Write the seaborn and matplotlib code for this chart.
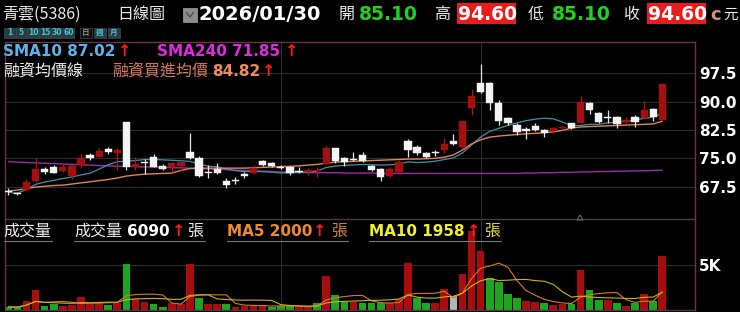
import numpy as np
import pandas as pd
import matplotlib
matplotlib.use("Agg")
import matplotlib.pyplot as plt
from matplotlib.patches import Rectangle
from matplotlib.lines import Line2D
import seaborn as sns

# ---------------- data ----------------
opens = [66.4, 65.9, 66.6, 69.1, 72.1, 72.6, 71.7, 70.3, 73.2, 75.9,
         75.4, 77.4, 76.5, 84.7, 72.6, 73.9, 75.4, 73.0, 72.6, 73.0,
         76.6, 75.0, 71.3, 72.2, 69.1, 69.2, 70.7, 71.0, 74.3, 73.8,
         72.7, 72.7, 71.7, 71.4, 71.6, 73.5, 77.7, 75.0, 74.7, 75.9,
         73.1, 72.1, 70.4, 71.5, 79.6, 77.9, 76.5, 76.7, 77.2, 79.6,
         77.9, 88.4, 94.9, 95.0, 89.6, 85.6, 83.8, 82.6, 83.6, 82.5,
         82.1, 83.0, 84.3, 84.3, 89.6, 87.1, 85.9, 85.9, 84.8, 86.0,
         85.6, 88.0, 85.1]
highs = [67.2, 66.2, 69.5, 75.0, 72.6, 73.2, 73.4, 73.4, 76.1, 76.3,
         77.7, 77.9, 77.7, 84.7, 75.4, 74.7, 76.1, 73.5, 74.1, 74.1,
         81.8, 75.7, 73.2, 73.7, 69.7, 70.1, 71.5, 73.2, 74.6, 74.1,
         73.3, 73.0, 72.8, 72.5, 72.6, 78.3, 77.8, 75.4, 76.6, 76.6,
         73.2, 72.4, 72.8, 74.6, 80.1, 78.5, 76.8, 77.2, 80.3, 81.4,
         85.0, 93.3, 100.0, 95.3, 90.4, 86.0, 84.4, 83.4, 84.4, 82.8,
         83.4, 83.6, 84.4, 91.6, 90.0, 87.3, 87.8, 86.2, 85.9, 86.5,
         90.2, 88.2, 94.6]
lows = [65.3, 65.3, 66.4, 68.8, 70.9, 71.0, 71.5, 69.5, 72.4, 74.6,
        75.3, 76.1, 71.9, 71.9, 71.9, 70.9, 72.6, 71.9, 71.5, 71.7,
        74.8, 70.0, 69.7, 70.9, 67.2, 68.2, 69.7, 70.9, 73.0, 72.8,
        72.1, 70.6, 71.0, 70.6, 70.1, 73.2, 73.8, 73.0, 74.3, 74.1,
        71.7, 69.1, 70.1, 71.0, 75.4, 75.9, 75.0, 75.6, 76.5, 78.5,
        77.8, 86.5, 92.2, 87.8, 83.8, 83.8, 81.2, 80.0, 82.1, 80.7,
        81.8, 82.5, 82.7, 84.3, 86.7, 84.3, 84.4, 83.0, 84.0, 83.4,
        85.3, 85.0, 85.1]
closes = [66.0, 65.5, 68.8, 72.1, 71.3, 71.2, 72.6, 73.0, 75.0, 75.2,
          77.0, 76.7, 77.2, 72.8, 73.5, 73.7, 72.8, 72.1, 73.8, 74.1,
          75.0, 70.4, 71.0, 71.1, 67.9, 69.0, 70.5, 72.4, 73.2, 73.1,
          72.5, 71.0, 71.5, 71.9, 71.8, 77.8, 74.3, 74.1, 74.5, 74.3,
          71.9, 70.1, 72.1, 74.1, 77.2, 76.3, 75.4, 76.5, 78.8, 78.8,
          84.9, 91.5, 92.6, 89.6, 84.9, 84.3, 81.9, 82.4, 82.6, 81.6,
          83.0, 83.2, 83.1, 90.0, 87.8, 84.5, 85.7, 84.0, 85.0, 84.7,
          87.8, 85.9, 94.6]
volumes = [300, 230, 940, 2180, 380, 600, 380, 560, 1430, 600,
           680, 560, 750, 5190, 1240, 870, 600, 300, 680, 600,
           5110, 1350, 600, 600, 600, 300, 380, 410, 560, 300,
           380, 410, 230, 300, 680, 3760, 1690, 870, 870, 750,
           680, 680, 680, 1130, 5260, 1350, 680, 750, 2260, 1500,
           4060, 8870, 6620, 3500, 3120, 1730, 1350, 980, 870, 790,
           490, 600, 600, 4500, 2200, 1080, 1050, 750, 450, 700,
           1780, 980, 6090]
margin_avg = [66.3, 66.6, 67.0, 67.4, 67.6, 67.8, 67.9, 68.2, 68.5, 68.8,
              69.1, 69.4, 69.8, 70.3, 70.6, 70.8, 70.9, 71.0, 71.1, 71.8,
              72.3, 72.4, 72.4, 72.4, 72.4, 72.4, 72.4, 72.5, 72.6, 72.7,
              72.8, 72.9, 73.0, 73.2, 73.4, 73.7, 74.0, 74.1, 74.2, 74.3,
              74.4, 74.5, 74.6, 74.7, 74.8, 74.8, 74.9, 75.0, 75.3, 75.9,
              77.2, 78.8, 79.9, 80.6, 80.9, 81.1, 81.3, 81.5, 81.6, 81.8,
              82.0, 82.4, 83.0, 83.3, 83.4, 83.5, 83.6, 83.7, 83.8, 83.9,
              84.0, 84.1, 84.82]
sma240 = [74.1, 74.0, 73.9, 73.8, 73.7, 73.6, 73.5, 73.4, 73.3,
          73.2, 73.1, 73.0, 72.9, 72.9, 72.8, 72.7, 72.7, 72.6, 72.5, 72.5, 72.4,
          72.3, 72.2, 72.1, 72.0, 71.9, 71.8, 71.7, 71.6, 71.5, 71.4,
          71.3, 71.3, 71.2, 71.2, 71.2, 71.2, 71.1, 71.1, 71.1, 71.1, 71.0, 71.0,
          71.0, 71.0, 71.0, 71.0, 71.0, 71.0, 71.0, 71.0, 71.0, 71.0, 71.0, 71.0, 71.0,
          71.0, 71.1, 71.1, 71.2, 71.2, 71.3, 71.3, 71.4, 71.4, 71.5, 71.5, 71.6,
          71.6, 71.7, 71.7, 71.8, 71.85]
price_ticks = [67.5, 75.0, 82.5, 90.0, 97.5]
price_tick_labels = ["67.5", "75.0", "82.5", "90.0", "97.5"]
vol_ticks = [5000]
vol_tick_labels = ["5K"]
month_marks = [30, 52]
period_buttons = ["1", "5", "10", "15", "30", "60", "日", "週", "月"]

# ---------------- style ----------------
sns.set_theme(style="dark", rc={
    "figure.facecolor": "black", "axes.facecolor": "black",
    "savefig.facecolor": "black", "grid.color": "#2c2c2c",
    "axes.edgecolor": "#6b3345", "text.color": "white",
})
plt.rcParams["font.family"] = ["DejaVu Sans", "Noto Sans CJK TC"]
CJK = ["Noto Sans CJK TC", "DejaVu Sans"]

RED = "#a50f0f"
WHITE = "#f4f4f4"
VRED = "#a80c0c"
VGREEN = "#1ea51e"
VGRAY = "#b4b4b4"

df = pd.DataFrame({"open": opens, "high": highs, "low": lows,
                   "close": closes, "volume": volumes,
                   "margin": margin_avg, "sma240": sma240})
df["idx"] = np.arange(len(df))
df["sma10"] = df["close"].rolling(10, min_periods=1).mean()
df["vma5"] = df["volume"].rolling(5, min_periods=1).mean()
df["vma10"] = df["volume"].rolling(10, min_periods=1).mean()

W, H = 740, 312
def fx(x): return x / W
def fy(y): return 1 - y / H

fig = plt.figure(figsize=(7.4, 3.12), dpi=100, facecolor="black")
ax = fig.add_axes([fx(4.5), fy(218), fx(695) - fx(4.5), fy(41.7) - fy(218)])
axv = fig.add_axes([fx(4.5), fy(309.5), fx(695) - fx(4.5), fy(219) - fy(309.5)])

XMIN, XMAX = -0.42, 75.6

# ---------------- price panel ----------------
sns.lineplot(data=df, x="idx", y="sma240", ax=ax, color="#9a2aa6", linewidth=1.0, zorder=2)
sns.lineplot(data=df, x="idx", y="sma10", ax=ax, color="#3f93a6", linewidth=0.9, zorder=2)
sns.lineplot(data=df, x="idx", y="margin", ax=ax, color="#e0845c", linewidth=1.0, zorder=2)

up = df["close"] >= df["open"]
ccol = np.where(up, RED, WHITE)
wcol = np.where(up, "#b31515", "#e6e6e6")
ax.vlines(df["idx"], df["low"], df["high"], colors=wcol, linewidth=0.9, zorder=3)
bh = np.maximum((df["close"] - df["open"]).abs(), 0.32)
mid = (df["close"] + df["open"]) / 2
ax.bar(df["idx"], bh, bottom=mid - bh / 2, width=0.8, color=ccol,
       edgecolor=ccol, linewidth=0.3, zorder=4)

ax.set_xlim(XMIN, XMAX)
ax.set_ylim(59.21, 105.86)
ax.yaxis.tick_right()
ax.set_yticks(price_ticks)
ax.set_yticklabels(price_tick_labels, fontsize=11, fontweight="bold", color="white")
ax.tick_params(axis="y", length=0, pad=3)
ax.set_xticks(month_marks)
ax.set_xticklabels([])
ax.tick_params(axis="x", length=0)
ax.grid(True, axis="both", color="#2c2c2c", linewidth=0.8)
ax.set_xlabel("")
ax.set_ylabel("")
for s in ["top", "left", "right"]:
    ax.spines[s].set_color("#6b3345")
    ax.spines[s].set_linewidth(1.0)
ax.spines["bottom"].set_visible(False)

# ---------------- volume panel ----------------
prev = df["close"].shift(1).fillna(df["open"])
chg = (df["close"] - prev).round(2)
vcol = np.where(chg > 0, VRED, np.where(chg < 0, VGREEN, VGRAY))
axv.bar(df["idx"], df["volume"], width=0.84, color=vcol, linewidth=0, zorder=2)
sns.lineplot(data=df, x="idx", y="vma5", ax=axv, color="#d47a2a", linewidth=0.8, zorder=3)
sns.lineplot(data=df, x="idx", y="vma10", ax=axv, color="#c8b414", linewidth=0.8, zorder=3)
axv.set_xlim(XMIN, XMAX)
axv.set_ylim(0, 10214)
axv.yaxis.tick_right()
axv.set_yticks(vol_ticks)
axv.set_yticklabels(vol_tick_labels, fontsize=11, fontweight="bold", color="white")
axv.tick_params(axis="y", length=0, pad=3)
axv.set_xticks(month_marks)
axv.set_xticklabels([])
axv.tick_params(axis="x", length=0)
axv.grid(True, axis="both", color="#2c2c2c", linewidth=0.8)
axv.set_xlabel("")
axv.set_ylabel("")
axv.spines["top"].set_color("#4e3a46")
axv.spines["left"].set_color("#6b3345")
axv.spines["right"].set_color("#6b3345")
axv.spines["bottom"].set_color("#4e3a46")
for s in axv.spines.values():
    s.set_linewidth(1.0)

# small marker triangle on panel divider
fig.add_artist(plt.Polygon([[fx(577), fy(220)], [fx(583), fy(220)], [fx(580), fy(215)]],
                           closed=True, fill=False, edgecolor="#666666",
                           linewidth=0.8, transform=fig.transFigure))

# ---------------- header ----------------
def t(x, y, s, color="white", size=11, weight="normal", family=None, **kw):
    kwargs = dict(color=color, fontsize=size, fontweight=weight, ha="left", va="center")
    if family is not None:
        kwargs["family"] = family
    kwargs.update(kw)
    return fig.text(fx(x), fy(y), s, **kwargs)

t(2, 14.5, "青雲(5386)", color="#ececec", size=11.5, family=CJK)
t(117, 14.5, "日線圖", color="#ececec", size=11.5, family=CJK)
fig.add_artist(Rectangle((fx(183), fy(21.5)), fx(14), fy(8) - fy(21.5),
                         facecolor="#8c8c8c", edgecolor="#a0a0a0", linewidth=0.5,
                         transform=fig.transFigure))
fig.add_artist(Line2D([fx(186.5), fx(190), fx(193.5)], [fy(12.5), fy(17), fy(12.5)],
                      color="#4a4a4a", linewidth=1.0, transform=fig.transFigure))
t(199, 15, "2026/01/30", size=14, weight="bold")
t(339, 14.5, "開", color="#ececec", size=11.5, family=CJK)
t(359, 15, "85.10", color="#1ed21e", size=13.5, weight="bold")
t(434, 14.5, "高", color="#ececec", size=11.5, family=CJK)
fig.add_artist(Rectangle((fx(457), fy(24)), fx(59), fy(3) - fy(24),
                         facecolor="#ee1a1a", edgecolor="none", transform=fig.transFigure))
t(458, 15, "94.60", size=13.5, weight="bold")
t(528, 14.5, "低", color="#ececec", size=11.5, family=CJK)
t(552, 15, "85.10", color="#1ed21e", size=13.5, weight="bold")
t(623, 14.5, "收", color="#ececec", size=11.5, family=CJK)
fig.add_artist(Rectangle((fx(647), fy(24)), fx(59), fy(3) - fy(24),
                         facecolor="#ee1a1a", edgecolor="none", transform=fig.transFigure))
t(648, 15, "94.60", size=13.5, weight="bold")
t(710, 15, "c", color="#c89a6e", size=13, weight="bold")
t(723, 14.5, "元", color="#ececec", size=10.5, family=CJK)

# period buttons
bx = [4, 15.7, 27.4, 39.1, 50.8, 62.5, 80, 94, 108]
for x0, lab in zip(bx, period_buttons):
    dark = lab == "日"
    fig.add_artist(Rectangle((fx(x0), fy(38)), fx(11.5), fy(27.5) - fy(38),
                             facecolor="#101010" if dark else "#2e3b40",
                             edgecolor="#3c4a50", linewidth=0.5,
                             transform=fig.transFigure))
    fig.text(fx(x0 + 5.75), fy(32.8), lab, color="#8a8a8a" if dark else "#3fc4d4",
             fontsize=5.5, fontweight="bold", ha="center", va="center",
             family=CJK if lab in ("日", "週", "月") else None)

# price legend
t(3, 51.5, "SMA10 87.02", color="#58b4ea", size=11, weight="bold")
t(118, 51.5, "↑", color="#ff1a1a", size=11.5, weight="bold")
t(157, 51.5, "SMA240 71.85", color="#e02ae0", size=11, weight="bold")
t(285, 51.5, "↑", color="#ff1a1a", size=11.5, weight="bold")
t(3, 71, "融資均價線", color="#ececec", size=11.5, family=CJK)
t(112, 71, "融資買進均價", color="#d8775a", size=11.5, family=CJK)
t(212, 71.5, "84.82", color="#f08c5c", size=11, weight="bold")
t(262, 71.5, "↑", color="#ff1a1a", size=11.5, weight="bold")

# volume legend
t(3, 231.5, "成交量", color="#ececec", size=11.5, family=CJK)
t(74, 231.5, "成交量", color="#ececec", size=11.5, family=CJK)
t(127, 232, "6090", color="white", size=11, weight="bold")
t(172, 232, "↑", color="#ff1a1a", size=11.5, weight="bold")
t(187, 231.5, "張", color="#ececec", size=11.5, family=CJK)
t(227, 232, "MA5 2000", color="#f08a30", size=11, weight="bold")
t(313, 232, "↑", color="#ff1a1a", size=11.5, weight="bold")
t(331, 231.5, "張", color="#d2843e", size=11.5, family=CJK)
t(369, 232, "MA10 1958", color="#f0f028", size=11, weight="bold")
t(467, 232, "↑", color="#ff1a1a", size=11.5, weight="bold")
t(484, 231.5, "張", color="#e0e030", size=11.5, family=CJK)
for x0, x1 in [(4, 52), (74, 205), (227, 348), (369, 501)]:
    fig.add_artist(Line2D([fx(x0), fx(x1)], [fy(240.5), fy(240.5)], color="#7a7a7a",
                          linewidth=0.8, transform=fig.transFigure))

fig.savefig("out.png", dpi=100, facecolor="black")
